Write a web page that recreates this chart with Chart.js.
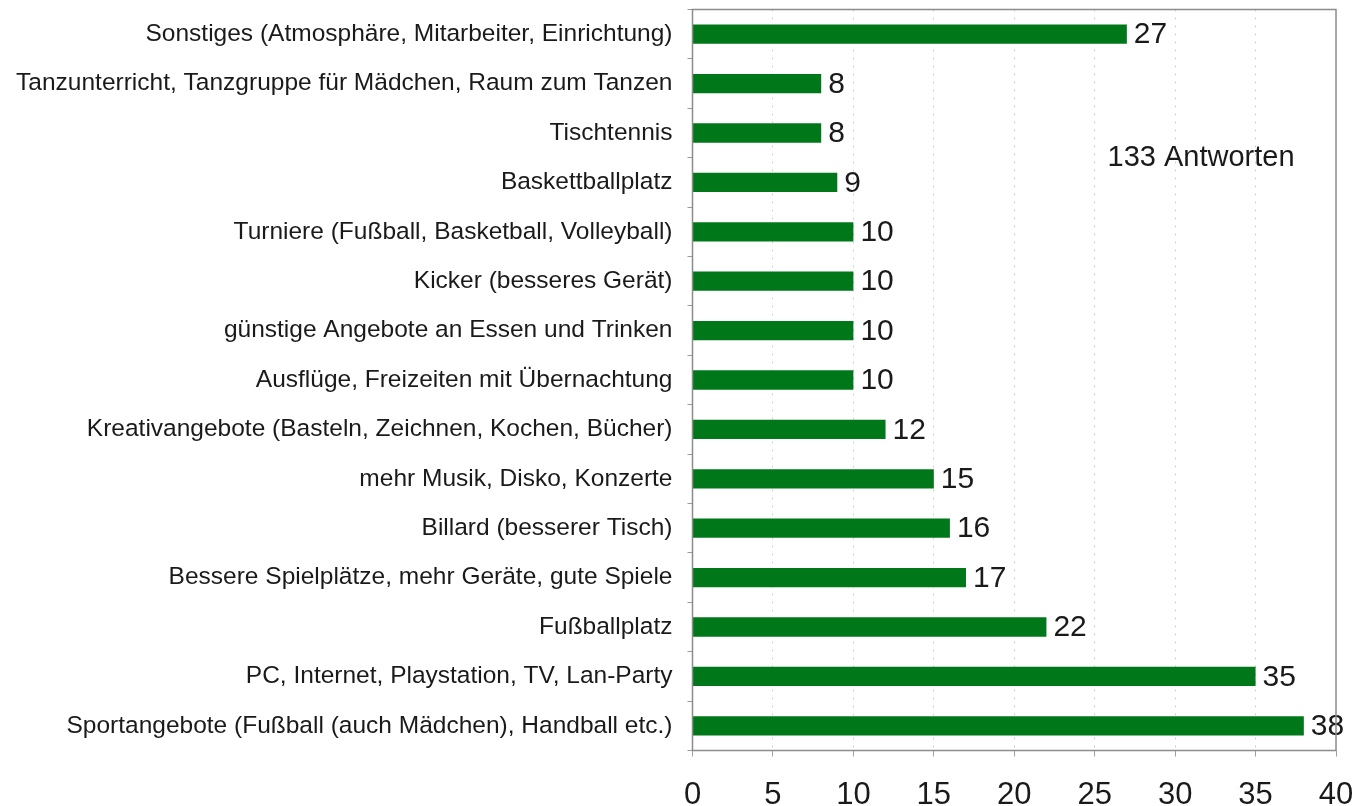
<!DOCTYPE html>
<html><head><meta charset="utf-8">
<script src="https://cdn.jsdelivr.net/npm/chart.js@4"></script>
<style>html,body{margin:0;padding:0;background:#fff}#wrap{width:1354px;height:806px}</style>
</head><body><div id="wrap"><canvas id="c" width="1354" height="806"></canvas></div>
<script>
const categories = [
  "Sonstiges (Atmosphäre, Mitarbeiter, Einrichtung)",
  "Tanzunterricht, Tanzgruppe für Mädchen, Raum zum Tanzen",
  "Tischtennis",
  "Baskettballplatz",
  "Turniere (Fußball, Basketball, Volleyball)",
  "Kicker (besseres Gerät)",
  "günstige Angebote an Essen und Trinken",
  "Ausflüge, Freizeiten mit Übernachtung",
  "Kreativangebote (Basteln, Zeichnen, Kochen, Bücher)",
  "mehr Musik, Disko, Konzerte",
  "Billard (besserer Tisch)",
  "Bessere Spielplätze, mehr Geräte, gute Spiele",
  "Fußballplatz",
  "PC, Internet, Playstation, TV, Lan-Party",
  "Sportangebote (Fußball (auch Mädchen), Handball etc.)"
];
const values = [27, 8, 8, 9, 10, 10, 10, 10, 12, 15, 16, 17, 22, 35, 38];
const xTicks = [0, 5, 10, 15, 20, 25, 30, 35, 40];
const noteText = "133 Antworten";

const FONT = "'Liberation Sans', Arial, sans-serif";

const extras = {
  id: 'extras',
  afterDatasetsDraw(chart) {
    const ctx = chart.ctx;
    const meta = chart.getDatasetMeta(0);
    ctx.save();
    ctx.fillStyle = '#1a1a1a';
    ctx.font = '30px ' + FONT;
    ctx.textAlign = 'left';
    ctx.textBaseline = 'middle';
    meta.data.forEach((bar, i) => {
      ctx.fillText(String(values[i]), bar.x + 7, bar.y + 1);
    });
    const a = chart.chartArea;
    ctx.strokeStyle = '#8c8c8c';
    ctx.lineWidth = 1.5;
    ctx.strokeRect(a.left, a.top, a.right - a.left, a.bottom - a.top);
    const xs = chart.scales.x, ys = chart.scales.y;
    ctx.font = '29px ' + FONT;
    ctx.fillText(noteText, xs.getPixelForValue(25.8), ys.getPixelForValue(2.5));
    ctx.restore();
  }
};

new Chart(document.getElementById('c'), {
  type: 'bar',
  data: {
    labels: categories,
    datasets: [{
      data: values,
      backgroundColor: '#00781a',
      borderWidth: 0,
      barPercentage: 0.78,
      categoryPercentage: 0.5
    }]
  },
  options: {
    indexAxis: 'y',
    responsive: false,
    animation: false,
    layout: { padding: { top: 9.5, right: 18, left: 0, bottom: 0 } },
    plugins: { legend: { display: false }, tooltip: { enabled: false } },
    scales: {
      x: {
        min: 0, max: 40,
        afterBuildTicks(s) { s.ticks = xTicks.map(v => ({ value: v })); },
        afterFit(s) { s.height = 55.5; s.paddingLeft = 0; s.paddingRight = 0; },
        border: { display: false, dash: [2, 6] },
        grid: {
          color: (c) => (c.tick && (c.tick.value === 0 || c.tick.value === 40)) ? 'rgba(0,0,0,0)' : '#cfcfcf',
          lineWidth: 1,
          tickColor: '#a0a0a0',
          tickLength: 6,
          tickBorderDash: [0, 0]
        },
        ticks: { color: '#1a1a1a', font: { family: FONT, size: 31 }, padding: 20, maxRotation: 0 }
      },
      y: {
        afterFit(s) { s.width = 692.5; s.paddingTop = 0; s.paddingBottom = 0; },
        border: { display: false },
        grid: {
          drawOnChartArea: false,
          color: '#9a9a9a',
          tickColor: '#9a9a9a',
          tickLength: 5
        },
        ticks: { color: '#1a1a1a', font: { family: FONT, size: 24.5 }, padding: 15, autoSkip: false }
      }
    }
  },
  plugins: [extras]
});
</script></body></html>
